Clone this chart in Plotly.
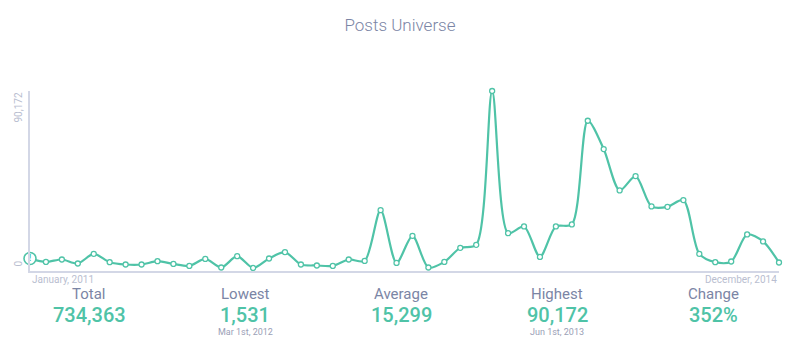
import plotly.graph_objects as go

months = [f"{y}-{m:02d}" for y in range(2011, 2015) for m in range(1, 13)]
posts = [6269, 4564, 5767, 3761, 8576, 4413, 3260, 3260, 4915, 3561,
         2558, 6068, 1755, 7422, 1531, 6269, 9428, 3260, 2758, 2558,
         5767, 5065, 30491, 4062, 17603, 1755, 4564, 11585, 13089, 90172,
         18957, 22317, 7071, 22317, 23320, 75275, 61083, 40371, 47542, 32347,
         32146, 35506, 8576, 4413, 4764, 18305, 14794, 4263]

title = "Posts Universe"
y_tick_labels = ["0", "90,172"]
start_label = "January, 2011"
end_label = "December, 2014"
stat_names = ["Total", "Lowest", "Average", "Highest", "Change"]
stat_values = ["734,363", "1,531", "15,299", "90,172", "352%"]
stat_notes = ["", "Mar 1st, 2012", "", "Jun 1st, 2013", ""]

TEAL = "#4fc3a7"
AXIS = "#d3d7e6"
LABEL = "#7b85a5"
FAINT = "#b9bed0"

idx = list(range(len(posts)))

fig = go.Figure()
fig.add_trace(go.Scatter(
    x=idx, y=posts, mode="lines+markers",
    line=dict(color=TEAL, width=2.2, shape="spline", smoothing=0.8),
    marker=dict(size=5, color="white", line=dict(color=TEAL, width=1.3)),
    cliponaxis=False, hoverinfo="skip", showlegend=False,
))
fig.add_trace(go.Scatter(
    x=[idx[0]], y=[posts[0]], mode="markers+text", text=["<b>!</b>"],
    textposition="middle center",
    textfont=dict(color=TEAL, size=9, family="Roboto"),
    marker=dict(size=12, color="white", line=dict(color=TEAL, width=1.6)),
    cliponaxis=False, hoverinfo="skip", showlegend=False,
))

fig.update_layout(
    width=800, height=354,
    margin=dict(l=30, r=21, t=91, b=83),
    paper_bgcolor="white", plot_bgcolor="white",
    font=dict(family="Roboto, sans-serif"),
    title=dict(text=title, x=0.5, xanchor="center", y=1 - 25 / 354, yanchor="middle",
               font=dict(size=17, color=LABEL, family="Roboto", weight=300)),
    xaxis=dict(range=[0, len(posts) - 1], showgrid=False, zeroline=False,
               showticklabels=False, showline=True, linecolor=AXIS, linewidth=2),
    yaxis=dict(range=[0, max(posts)], showgrid=False, zeroline=False,
               showticklabels=False, showline=True, linecolor=AXIS, linewidth=2),
)


def py(px):
    return (354 - px - 83) / 180


def px_x(px):
    return (px - 30) / 749


ann = []
ann.append(dict(text=y_tick_labels[1], xref="paper", yref="paper", x=0, y=1,
                xanchor="right", yanchor="top", textangle=-90, xshift=-5, showarrow=False,
                font=dict(size=10, color=FAINT)))
ann.append(dict(text=y_tick_labels[0], xref="paper", yref="paper", x=0, y=0,
                xanchor="right", yanchor="bottom", textangle=-90, xshift=-5, yshift=2,
                showarrow=False, font=dict(size=10, color=FAINT)))
ann.append(dict(text=start_label, xref="paper", yref="paper", x=0, y=0,
                xanchor="left", yanchor="middle", yshift=-8, showarrow=False,
                font=dict(size=10, color=FAINT)))
ann.append(dict(text=end_label, xref="paper", yref="paper", x=1, y=0,
                xanchor="right", yanchor="middle", yshift=-8, showarrow=False,
                font=dict(size=10, color=FAINT)))

for i, (n, v, s) in enumerate(zip(stat_names, stat_values, stat_notes)):
    cx = px_x(89 + 156 * i)
    ann.append(dict(text=n, xref="paper", yref="paper", x=cx, y=py(294),
                    xanchor="center", yanchor="middle", borderpad=0,
                    showarrow=False, font=dict(size=15, color=LABEL)))
    ann.append(dict(text=v, xref="paper", yref="paper", x=cx, y=py(315),
                    xanchor="center", yanchor="middle", borderpad=0,
                    showarrow=False, font=dict(size=20, color=TEAL, weight=500)))
    if s:
        ann.append(dict(text=s, xref="paper", yref="paper", x=cx, y=py(332),
                        xanchor="center", yanchor="middle", borderpad=0,
                        showarrow=False, font=dict(size=9, color="#9aa0b6")))

fig.update_layout(annotations=ann)
fig.write_html("out.html")
